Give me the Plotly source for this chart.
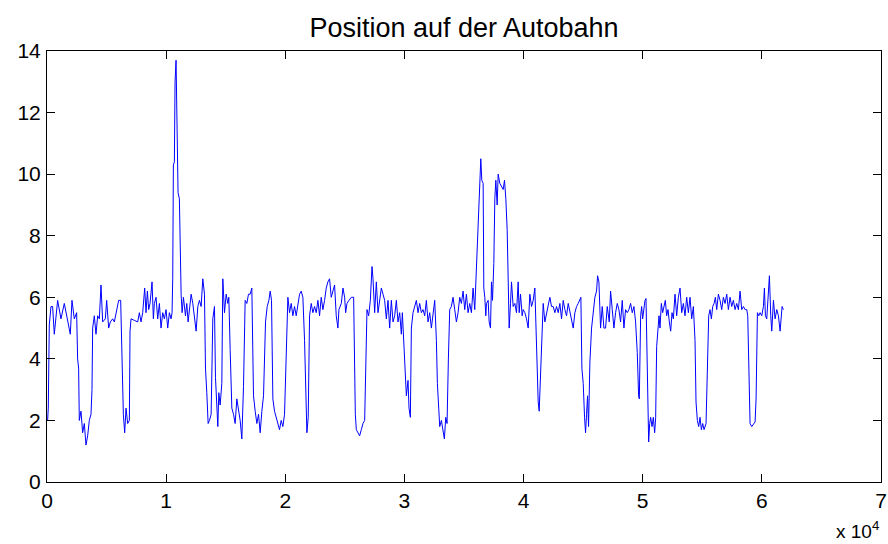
import plotly.graph_objects as go

# ---- data (sample index, position) ----
x_seg1 = [52, 108, 192, 332, 472, 612, 892, 1172, 1452, 1732, 1956, 2096, 2292, 2488, 2572, 2656, 2712,
          2852, 2992, 3132, 3272, 3412, 3552, 3692, 3776, 3832, 3972, 4112, 4252, 4392, 4532, 4672, 4896,
          5008, 5176, 5316, 5512, 5652, 5792, 6016, 6184, 6296, 6408, 6520, 6632, 6772, 6912, 6968, 7052,
          7332, 7612, 7752, 7892, 8032, 8200, 8312, 8424, 8536, 8648, 8816, 8928, 9012, 9152, 9292, 9432,
          9572, 9712, 9852, 9992, 10132, 10272, 10412, 10496, 10552, 10608, 10692, 10748, 10832, 10916,
          11000, 11112, 11168]
y_seg1 = [2.0, 2.4, 5.1, 5.7, 5.7, 4.8, 5.9, 5.3, 5.8, 5.2, 4.8, 5.9, 5.3, 5.5, 4.0, 3.7, 2.0,
          2.3, 1.6, 1.9, 1.2, 1.5, 2.0, 2.2, 3.0, 5.0, 5.4, 4.8, 5.4, 5.3, 6.4, 5.2, 5.3,
          5.9, 5.0, 5.2, 5.3, 5.2, 5.5, 5.9, 5.9, 3.5, 2.2, 1.6, 2.4, 1.9, 2.0, 4.9, 5.3,
          5.25, 5.2, 5.5, 5.2, 5.5, 6.3, 5.5, 6.2, 5.6, 5.8, 6.5, 5.3, 5.8, 6.0, 5.3, 5.8,
          5.0, 5.5, 5.3, 5.6, 5.0, 5.5, 5.3, 5.5, 6.6, 10.3, 10.4, 13.0, 13.7, 12.0,
          9.4, 9.2, 7.6]

x_seg2 = [11257, 11341, 11453, 11621, 11733, 11845, 11957, 12097, 12237, 12377, 12517, 12657, 12797,
          12937, 13077, 13217, 13301, 13413, 13525, 13637, 13777, 13917, 14057, 14141, 14253, 14337,
          14421, 14533, 14673, 14757, 14897, 15037, 15177, 15261, 15373, 15513, 15653, 15793, 15933,
          16073, 16213, 16353, 16493, 16633, 16773, 16913, 17053, 17193, 17333, 17473, 17613, 17753,
          17893, 18033, 18173, 18341, 18481, 18621, 18733, 18845, 18957, 19097, 19237, 19377, 19517,
          19657, 19797, 19937, 20077, 20217, 20357, 20497, 20637, 20777, 20917, 21057, 21197, 21337,
          21477, 21617, 21701, 21813, 21925, 22037, 22177, 22317, 22457, 22597, 22737, 22877, 23017,
          23157, 23297, 23437, 23577, 23717, 23857, 23997, 24137, 24277, 24417, 24501]
y_seg2 = [6.1, 5.5, 6.0, 5.4, 5.8, 5.2, 5.6, 6.1, 5.8, 5.4, 4.9, 5.7, 5.9,
          5.7, 6.6, 6.1, 3.7, 2.9, 1.9, 2.0, 2.2, 5.3, 5.7, 3.4, 2.2, 1.8,
          2.9, 2.5, 3.2, 6.6, 5.5, 6.1, 5.8, 6.0, 4.3, 2.4, 2.2, 1.9, 2.7,
          2.4, 2.0, 1.4, 3.1, 5.9, 5.8, 6.1, 6.1, 6.3, 2.8, 2.3, 1.9, 2.2,
          1.6, 2.3, 2.8, 5.2, 5.7, 5.9, 6.2, 5.9, 2.7, 2.3, 2.1, 1.9, 1.7,
          2.0, 1.8, 2.2, 4.3, 6.0, 5.5, 5.8, 5.4, 5.7, 5.4, 5.8, 6.1, 6.2,
          6.0, 4.6, 2.9, 1.6, 2.1, 5.4, 5.8, 5.5, 5.7, 5.5, 5.9, 5.4, 6.0,
          5.6, 5.9, 6.3, 6.5, 6.6, 6.0, 6.2, 6.4, 5.4, 5.0, 5.6]

x_seg3 = [24702, 24842, 24982, 25066, 25178, 25346, 25542, 25738, 25794, 25878, 25962, 26102, 26242,
          26382, 26522, 26662, 26746, 26858, 26998, 27138, 27278, 27362, 27502, 27642, 27782, 27922,
          28062, 28202, 28342, 28482, 28622, 28762, 28902, 29042, 29182, 29322, 29462, 29602, 29742,
          29826, 29938, 30050, 30162, 30302, 30386, 30498, 30582, 30722, 30862, 31002, 31142, 31282,
          31422, 31562, 31702, 31842, 31982, 32122, 32262, 32402, 32542, 32682, 32766, 32878, 32962,
          33102, 33242, 33354, 33466, 33578, 33690, 33802, 33942, 34082, 34222, 34362, 34502, 34642,
          34782, 34922, 35062, 35202, 35342, 35482, 35622, 35762, 35902, 36042]
y_seg3 = [5.8, 6.3, 6.0, 5.5, 5.8, 5.9, 6.0, 6.0, 4.1, 2.2, 1.7, 1.6, 1.5,
          1.7, 1.9, 2.0, 4.1, 5.6, 5.4, 5.9, 7.0, 6.6, 5.5, 6.5, 5.5, 6.0,
          6.3, 6.1, 5.9, 5.3, 5.9, 5.0, 5.9, 5.2, 5.4, 5.9, 5.2, 5.5, 4.8,
          5.5, 4.5, 3.3, 2.8, 3.3, 2.4, 2.1, 5.0, 5.5, 5.7, 5.9, 5.5, 5.8,
          5.5, 5.6, 5.4, 5.9, 5.2, 5.5, 5.0, 5.5, 5.9, 4.6, 3.2, 2.4, 1.8,
          2.0, 1.7, 1.4, 2.1, 1.9, 4.0, 5.6, 5.7, 6.0, 5.6, 5.2, 5.5, 6.0,
          5.8, 6.2, 5.6, 6.1, 5.5, 5.8, 5.5, 6.3, 5.6, 7.0]

x_seg4 = [36327, 36411, 36495, 36607, 36663, 36747, 36831, 36887, 37027, 37111, 37223, 37307, 37391,
          37503, 37587, 37671, 37783, 37867, 38007, 38147, 38287, 38399, 38511, 38623, 38707, 38791,
          38903, 38987, 39127, 39267, 39407, 39547, 39631, 39743, 39883, 39967, 40107, 40247, 40387,
          40527, 40667, 40807, 40947, 41031, 41143, 41227, 41311, 41423, 41535, 41647, 41787, 41927,
          42067, 42207, 42347, 42487, 42627, 42767, 42907, 43047, 43187, 43327, 43467, 43607, 43747,
          43887, 44027, 44167, 44307, 44447, 44587, 44727, 44811, 44895, 45007, 45119, 45203, 45287,
          45371, 45455, 45567, 45707, 45847, 45987, 46127, 46211, 46323, 46463, 46603, 46743, 46883,
          47023, 47191, 47303, 47443, 47583, 47723, 47863, 48003, 48143, 48283, 48423, 48563, 48703,
          48843, 48983, 49123, 49263, 49403, 49543, 49655, 49715]
y_seg4 = [9.3, 10.5, 9.8, 9.7, 6.3, 6.0, 5.4, 5.8, 5.9, 5.2, 5.0, 6.5, 5.9,
          7.1, 9.2, 9.8, 9.0, 10.0, 9.7, 9.6, 9.5, 9.8, 9.2, 8.2, 6.5, 5.0,
          5.8, 6.5, 5.7, 5.8, 5.5, 6.5, 5.5, 6.1, 5.4, 5.6, 5.5, 5.3, 5.0,
          6.1, 5.7, 5.9, 6.3, 5.0, 3.4, 2.6, 2.3, 3.7, 5.0, 5.8, 5.2, 5.5,
          5.8, 6.0, 5.7, 5.7, 5.5, 5.7, 5.5, 5.8, 5.3, 5.9, 5.6, 5.4, 5.8,
          5.5, 5.2, 5.0, 5.5, 5.7, 5.8, 5.9, 6.0, 3.7, 3.2, 2.1, 1.6, 2.2,
          2.8, 1.8, 3.9, 5.0, 5.6, 6.0, 6.2, 6.7, 6.5, 5.0, 5.7, 5.0, 5.0,
          5.7, 5.2, 6.2, 5.6, 5.0, 5.5, 5.8, 5.6, 5.2, 5.9, 5.0, 5.6, 5.5,
          5.6, 5.8, 5.5, 5.7, 5.2, 4.2, 2.8, 2.7]

x_seg5 = [49827, 49911, 49995, 50107, 50191, 50275, 50331, 50415, 50499, 50583, 50667, 50779, 50891,
          51003, 51087, 51171, 51255, 51367, 51451, 51563, 51675, 51787, 51899, 52011, 52123, 52235,
          52347, 52459, 52571, 52711, 52851, 52991, 53131, 53271, 53411, 53551, 53691, 53831, 53971,
          54111, 54251, 54391, 54475, 54587, 54699, 54811, 54923, 55035, 55147, 55315, 55427, 55539,
          55651, 55763, 55875, 55987, 56099, 56211, 56351, 56491, 56631, 56771, 56911, 57051, 57191,
          57331, 57471, 57611, 57751, 57891, 58031, 58171, 58311, 58451, 58591, 58731, 58815, 58899,
          59011, 59151, 59291, 59431, 59515, 59627, 59739, 59851, 59991, 60131, 60215, 60299, 60411,
          60523, 60635, 60747, 60831, 60971, 61111, 61251, 61391, 61531, 61615, 61699, 61811]
y_seg5 = [5.4, 5.7, 5.3, 5.8, 5.9, 5.96, 4.4, 2.3, 1.3, 1.9, 2.1, 1.8, 2.1,
          1.6, 2.1, 4.4, 4.9, 5.4, 5.0, 5.8, 5.5, 5.7, 5.9, 5.4, 5.6, 5.2,
          4.9, 5.5, 5.3, 6.1, 5.4, 6.0, 6.3, 5.5, 5.8, 5.4, 6.0, 5.5, 6.0,
          5.3, 5.7, 4.6, 2.6, 2.0, 1.8, 2.1, 1.7, 1.9, 1.7, 1.9, 3.7, 5.4,
          5.6, 5.3, 5.7, 5.8, 6.0, 5.6, 6.1, 5.9, 5.6, 6.0, 5.8, 6.1, 5.6,
          6.0, 5.7, 5.9, 5.6, 5.8, 5.6, 6.2, 5.6, 5.7, 5.6, 5.6, 5.4, 3.7,
          1.9, 1.8, 1.9, 1.95, 2.7, 5.5, 5.4, 5.5, 5.4, 5.7, 6.3, 5.4, 5.3,
          6.2, 6.7, 5.4, 4.9, 5.9, 5.3, 5.6, 5.4, 4.9, 5.4, 5.7, 5.6]

x_vals = x_seg1 + x_seg2 + x_seg3 + x_seg4 + x_seg5
y_vals = y_seg1 + y_seg2 + y_seg3 + y_seg4 + y_seg5

x_range = [0, 70000]
y_range = [0, 14]
x_tickvals = [0, 10000, 20000, 30000, 40000, 50000, 60000, 70000]
x_ticktext = ["0", "1", "2", "3", "4", "5", "6", "7"]
y_tickvals = [0, 2, 4, 6, 8, 10, 12, 14]

title_text = "Position auf der Autobahn"
exponent_text = "x 10<sup>4</sup>"

FONT = "Arial, Liberation Sans, Helvetica, sans-serif"
INK = "#000000"

W, H = 888, 544
M_L, M_R, M_T, M_B = 47, 7, 51, 62

fig = go.Figure()
fig.add_trace(go.Scatter(x=x_vals, y=y_vals, mode="lines",
                         line=dict(color="#0000FF", width=1), showlegend=False,
                         hoverinfo="skip"))

# MATLAB-style boxed axes with inside ticks on all four sides
axis_common = dict(showline=True, linecolor=INK, linewidth=1, mirror="ticks",
                   ticks="inside", ticklen=8, tickwidth=1, tickcolor=INK,
                   showgrid=False, zeroline=False,
                   tickfont=dict(family=FONT, size=21, color=INK))

fig.update_xaxes(range=x_range, tickvals=x_tickvals, ticktext=x_ticktext, **axis_common)
fig.update_yaxes(range=y_range, tickvals=y_tickvals, ticklabelstandoff=1, **axis_common)

fig.update_layout(
    width=W, height=H,
    margin=dict(l=M_L, r=M_R, t=M_T, b=M_B, autoexpand=False),
    paper_bgcolor="white", plot_bgcolor="white",
    title=dict(text=title_text, x=0.5, xref="paper", xanchor="center",
               y=1, yref="paper", yanchor="bottom", pad=dict(b=14),
               font=dict(family=FONT, size=27, color=INK)),
    annotations=[dict(text=exponent_text, xref="paper", yref="paper", x=1.0, y=0,
                      xanchor="right", yanchor="top", yshift=-34, showarrow=False,
                      font=dict(family=FONT, size=19, color=INK))],
)

fig.write_html("out.html", config={"displayModeBar": False})

# remove the default page margin so the figure sits at the window's top-left corner
with open("out.html", "r", encoding="utf-8") as fh:
    page = fh.read()
page = page.replace("<head>", "<head><style>html,body{margin:0;padding:0;overflow:hidden;}</style>", 1)
with open("out.html", "w", encoding="utf-8") as fh:
    fh.write(page)
